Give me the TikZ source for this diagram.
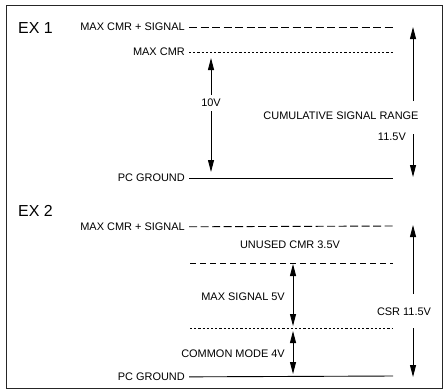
\documentclass[tikz,border=0pt]{standalone}
\usepackage{fontspec}
\setmainfont{Liberation Sans}
\usetikzlibrary{arrows.meta, positioning, calc}

\begin{document}
\begin{tikzpicture}[x=1bp, y=-1bp,
    lbl/.style={font=\fontsize{11}{12}\selectfont, inner sep=1bp},
    extitle/.style={font=\fontsize{16}{18}\selectfont, anchor=west, inner sep=0pt},
    level/.style={line width=0.9bp, shorten <=3bp},
    longdash/.style={dash pattern=on 8bp off 3.5bp},
    middash/.style={dash pattern=on 6bp off 4bp},
    shortdash/.style={dash pattern=on 2.2bp off 2bp},
    tip/.tip={Triangle[length=12bp, width=6bp]},
    dim/.style={line width=0.9bp, -tip},
    dimboth/.style={line width=0.9bp, tip-tip}]
    \useasboundingbox (0,0) rectangle (444,391);

    % Frame
    \draw[line width=1bp, black!85] (6,5) rectangle (442,388);

    % ---------- EX 1 ----------
    \node[extitle] (ex1) at (18,28) {EX 1};

    % Levels
    \node[lbl, anchor=east] (sig1) at (186,27) {MAX CMR + SIGNAL};
    \node[lbl, anchor=east] (cmr1) at (186,52) {MAX CMR};
    \node[lbl, anchor=east] (gnd1) at (186,178) {PC GROUND};
    \coordinate (sig1r) at (393,27);
    \coordinate (cmr1r) at (393,52);
    \coordinate (gnd1r) at (393,178);
    \draw[level, longdash] (sig1) -- (sig1r);
    \draw[level, shortdash] (cmr1) -- (cmr1r);
    \draw[level] (gnd1) -- (gnd1r);

    % 10V span
    \node[lbl, inner sep=4bp] (v10) at (211,103) {10V};
    \coordinate (v10t) at (211,58);
    \coordinate (v10b) at (211,172);
    \draw[dim] (v10) -- (v10t);
    \draw[dim] (v10) -- (v10b);

    % Cumulative signal range
    \node[lbl] (cum1) at (341,116) {CUMULATIVE SIGNAL RANGE};
    \node[lbl, anchor=east] (csr1) at (407,137) {11.5V};
    \coordinate (csr1t) at (413,27);
    \coordinate (csr1m) at (413,101);
    \coordinate (csr1n) at (413,134);
    \coordinate (csr1b) at (413,177);
    \draw[dim] (csr1m) -- (csr1t);
    \draw[dim] (csr1n) -- (csr1b);

    % ---------- EX 2 ----------
    \node[extitle] (ex2) at (18,211) {EX 2};

    % Levels
    \node[lbl, anchor=east] (sig2) at (186,227) {MAX CMR + SIGNAL};
    \node[lbl, anchor=east] (gnd2) at (186,377) {PC GROUND};
    \coordinate (sig2r) at (393,226);
    \coordinate (max2l) at (190,263);
    \coordinate (max2r) at (393,263);
    \coordinate (cm2l) at (190,328);
    \coordinate (cm2r) at (393,328);
    \coordinate (gnd2r) at (393,376);
    \draw[level, longdash] (sig2) -- (sig2r);
    \draw[line width=0.9bp, middash] (max2l) -- (max2r);
    \draw[line width=0.9bp, shortdash] (cm2l) -- (cm2r);
    \draw[level] (gnd2) -- (gnd2r);

    % Partial spans
    \node[lbl] (unused2) at (290,245) {UNUSED CMR 3.5V};
    \node[lbl, anchor=east] (msig2) at (286,297) {MAX SIGNAL 5V};
    \node[lbl, anchor=east] (cmode2) at (286,354) {COMMON MODE 4V};
    \coordinate (msig2t) at (293,264);
    \coordinate (msig2b) at (293,326);
    \coordinate (cmode2t) at (293,331);
    \coordinate (cmode2b) at (293,374);
    \draw[dimboth] (msig2t) -- (msig2b);
    \draw[dimboth] (cmode2t) -- (cmode2b);

    % CSR span
    \node[lbl] (csr2) at (404,312) {CSR 11.5V};
    \coordinate (csr2t) at (413,225);
    \coordinate (csr2m) at (413,294);
    \coordinate (csr2n) at (413,328);
    \coordinate (csr2b) at (413,377);
    \draw[dim] (csr2m) -- (csr2t);
    \draw[dim] (csr2n) -- (csr2b);
\end{tikzpicture}
\end{document}
